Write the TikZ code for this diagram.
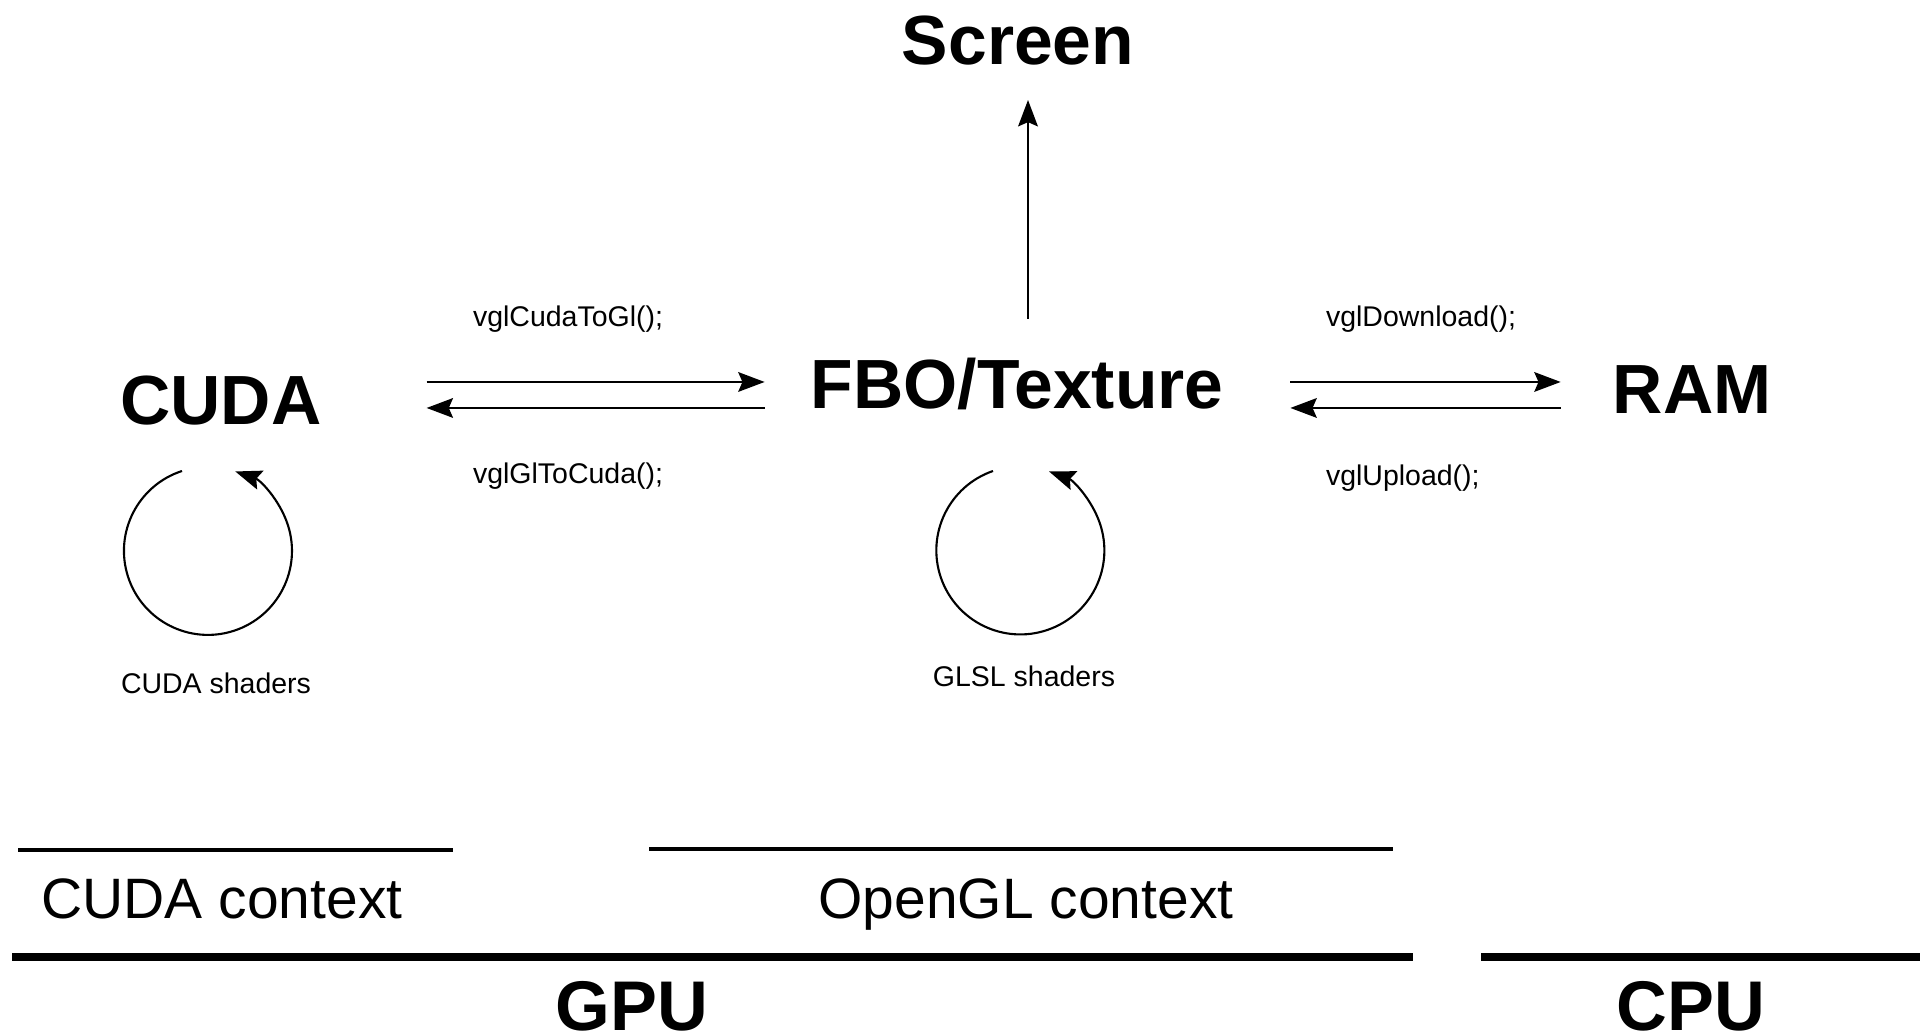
\documentclass[tikz,border=0pt]{standalone}
\usepackage{fontspec}
\setmainfont{Liberation Sans}
\usetikzlibrary{arrows.meta,calc,positioning}

\begin{document}
\begin{tikzpicture}[x=0.01cm,y=0.01cm,line width=0.6pt]
\tikzstyle{flow}=[-{Stealth[length=7.5pt,width=5.6pt,inset=1.2pt]}]
\tikzstyle{unit}=[inner sep=0pt,anchor=south,text height=14.2pt,text depth=0pt,font=\fontsize{19.8}{19.8}\selectfont\bfseries]
\tikzstyle{call}=[inner sep=0pt,anchor=base west,font=\fontsize{8.1}{8.1}\selectfont]
\tikzstyle{shader}=[inner sep=0pt,anchor=base,font=\fontsize{8.1}{8.1}\selectfont]
\tikzstyle{context}=[inner sep=0pt,anchor=base,font=\fontsize{16.2}{16.2}\selectfont]
\tikzstyle{device}=[inner sep=0pt,anchor=base,font=\fontsize{20}{20}\selectfont\bfseries]
\tikzstyle{bar}=[line width=1.3pt]
\tikzstyle{thickbar}=[line width=2pt]

\useasboundingbox (0,0) rectangle (1930,-1034);

% memories
\node[unit] (screen) at (1018,-66) {Screen};
\node[unit] (cuda) at (221,-426) {CUDA};
\node[unit] (fbo) at (1017,-410) {FBO/Texture};
\node[unit] (ram) at (1692,-415) {RAM};

% transfers
\draw[flow] ($(cuda.east)+(104,18)$) -- ($(fbo.west)+(-45,2)$);
\draw[flow] ($(fbo.west)+(-45,-24)$) -- ($(cuda.east)+(104,-8)$);
\draw[flow] ($(fbo.east)+(66,2)$) -- ($(ram.west)+(-51,7)$);
\draw[flow] ($(ram.west)+(-51,-19)$) -- ($(fbo.east)+(66,-24)$);
\draw[flow] ($(fbo.north)+(11,39)$) -- ($(screen.south)+(10,-34)$);

\node[call] (toGl) at (472,-327) {vglCudaToGl();};
\node[call] (toCuda) at (472,-484) {vglGlToCuda();};
\node[call] (download) at (1325,-327) {vglDownload();};
\node[call] (upload) at (1325,-486) {vglUpload();};

% shader loops
\draw[flow] ($(cuda.south)+(-39,-45)$) arc[start angle=108,end angle=431,radius=84];
\node[shader] (cudaShaders) at (216,-694) {CUDA shaders};
\draw[flow] ($(fbo.south)+(-24,-61)$) arc[start angle=109,end angle=430,radius=84];
\node[shader] (glslShaders) at (1024,-687) {GLSL shaders};

% contexts and devices
\draw[bar] (18,-850) -- (453,-850);
\node[context] (cudaCtx) at (222,-918) {CUDA context};
\draw[bar] (649,-849) -- (1393,-849);
\node[context] (glCtx) at (1026,-918) {OpenGL context};
\draw[thickbar] (12,-957) -- (1413,-957);
\node[device] (gpu) at (632,-1030) {GPU};
\draw[thickbar] (1481,-957) -- (1920,-957);
\node[device] (cpu) at (1691,-1030) {CPU};
\end{tikzpicture}
\end{document}
